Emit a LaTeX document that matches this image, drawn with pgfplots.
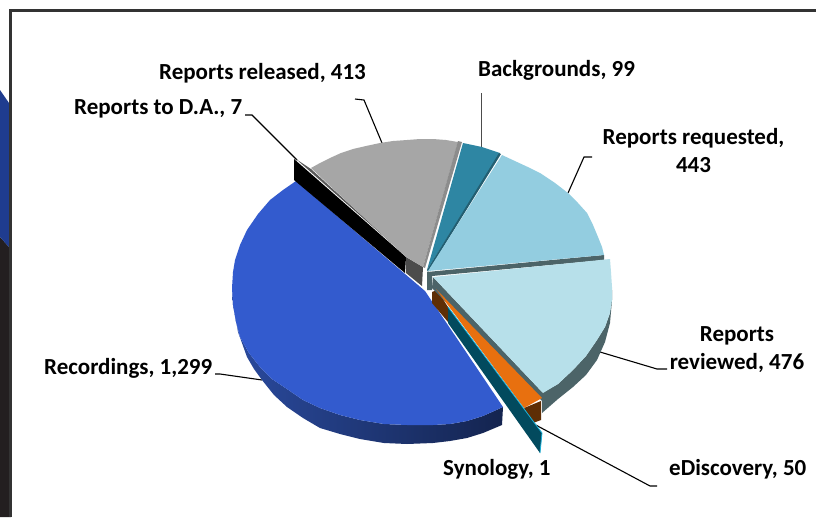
\documentclass[border=0pt]{standalone}
\usepackage{pgfplots}
\pgfplotsset{compat=1.18}
\usepackage{fontspec}
\setmainfont{Carlito}
\definecolor{cBlue}{HTML}{335BCE}
\definecolor{cGrey}{HTML}{A6A6A6}
\definecolor{cTeal}{HTML}{2E86A3}
\definecolor{cReq}{HTML}{93CDE0}
\definecolor{cRev}{HTML}{B7E0EA}
\definecolor{cOr}{HTML}{E8700F}
\definecolor{cBr}{HTML}{5E2E05}
\definecolor{cSyn}{HTML}{024A5E}
\definecolor{cBand}{HTML}{4C6468}
\definecolor{cDark}{HTML}{231F20}
\tikzset{lab/.style={font=\fontsize{23}{27}\selectfont\bfseries,text=black,inner sep=0pt},
 lead/.style={black,line width=1.1pt}}
\begin{document}
\begin{tikzpicture}
\begin{axis}[at={(0,0)},anchor=south west,width=816pt,height=517pt,scale only axis,
 xmin=0,xmax=816,ymin=0,ymax=517,y dir=reverse,hide axis,clip=true,no markers]
% page ground
\addplot[fill=white,draw=none] coordinates {(0,0)(816,0)(816,517)(0,517)} --cycle;
% page furniture
\addplot[fill=cDark,draw=none] coordinates {(0,237)(9,247)(11,247)(11,517)(0,517)} --cycle;
\addplot[fill={rgb,255:red,31;green,60;blue,143},draw=none] coordinates {(0,90)(9,103)(9,247)(0,237)} --cycle;
\addplot[draw=black!80,line width=2.6pt] coordinates {(10.3,517)(10.3,10.3)(816,10.3)};
% leaders
\addplot[lead] coordinates {(355,99)(364,100)(382,143)};
\addplot[lead] coordinates {(245,115)(252,115)(297,160)};
\addplot[lead,draw=black!70] coordinates {(481.5,93)(481.5,148)};
\addplot[lead] coordinates {(592,157)(584,157)(568,193)};
\addplot[lead] coordinates {(600,352)(657,369)(667,369)};
\addplot[lead] coordinates {(215,374)(220,374)(262,380)};
\addplot[lead] coordinates {(532,423)(650,486)(657,486)};
% blue side
\addplot[draw=none,left color={rgb,255:red,42;green,74;blue,158},middle color={rgb,255:red,26;green,44;blue,104},right color={rgb,255:red,20;green,36;blue,79}] coordinates {
(232,288)(233,305)(236,322)(240,337)(249,353)(260,367)(272,379)(287,389)(303,400)(320,408)(340,415)(360,420)(384,424)(407,425)(433,425)(450,424)(467,421)(483,416)(503,407)
(502,425)(483,433)(467,438)(450,441)(433,443)(407,444)(384,443)(360,439)(340,434)(320,428)(303,418)(287,407)(274,395)(262,380)(254,369)(247,357)(238,332)(234,310)} --cycle;
% blue top
\addplot[fill=cBlue,draw=none] coordinates {(296,181)(425,291)(503,407)
(483,416)(467,421)(450,424)(433,425)(407,425)(384,424)(360,420)(340,415)(320,408)(303,400)(287,389)(272,379)(260,367)(249,353)(240,337)(236,322)(233,305)(232,288)
(233,272)(235,260)(240,245)(247,230)(258,214)(270,200)(283,190)} --cycle;
% Reports to D.A.
\addplot[fill=black!65,draw=none] coordinates {(296,159)(311,169)(406,256)} --cycle;
\addplot[fill=black,draw=none] coordinates {(294,159)(294,180)(405,273)(406,257)} --cycle;
\addplot[fill=black!70,draw=none] coordinates {(406,257)(406,273)(422,286)(423,267)} --cycle;
% Reports released
\addplot[fill=cGrey,draw=none] coordinates {(423,267)(406,257)(311,168)(320,163)(330,158)(341,153)(353,149)(366,146)(380,143)(393,141)(407,140)(420,139)(433,139)(446,140)(458,142)} --cycle;
\addplot[fill=black!45,draw=none] coordinates {(458,141)(462,142)(425,268)(423,267)} --cycle;
% Backgrounds
\addplot[fill=cTeal,draw=none] coordinates {(463,143)(482,147)(500,153)(427,270)} --cycle;
\addplot[fill={rgb,255:red,35;green,95;blue,114},draw=none] coordinates {(499,153)(501,154)(428,272)(427,270)} --cycle;
% Reports requested
\addplot[fill=cBand,draw=none] coordinates {(604,255)(604,260)(432,276)(432,290)(427,290)(427,272)} --cycle;
\addplot[fill=cReq,draw=none] coordinates {(428,271)(502,155)(517,162)(530,168)(540,173)(555,183)(568,193)(578,203)(587,213)(593,225)(598,237)(602,247)(604,255)} --cycle;
% eDiscovery sides
\addplot[fill=cBr,draw=none] coordinates {(432,292)(437,290)(448,307)(448,322)(432,303)} --cycle;
\addplot[fill=cBr,draw=none] coordinates {(524,408)(541,401)(541,420)(533,423)} --cycle;
% Reviewed side
\addplot[fill=cBand,draw=none] coordinates {(612,290)(612,300)(610,323)(605,342)(597,360)(586,375)(573,387)(558,399)(542,413)(542,393)(558,384)(573,370)(586,356)(597,340)(605,327)(610,313)} --cycle;
\addplot[fill=cBand,draw=none] coordinates {(433,277)(432,288)(542,401)(543,393)} --cycle;
% eDiscovery top
\addplot[fill=cOr,draw=none] coordinates {(436,289)(542,398)(524,408)} --cycle;
% Reviewed top
\addplot[fill=cRev,draw=none] coordinates {(433,277)(610,259)(611,272)(612,287)(612,300)(610,313)(605,327)(597,340)(586,356)(573,370)(558,384)(543,393)} --cycle;
% Synology
\addplot[fill=cSyn,draw=none] coordinates {(448,307)(448,323)(540,453)(542,433)} --cycle;
\addplot[draw={rgb,255:red,25;green,176;blue,216},line width=0.8pt] coordinates {(448,307)(542,433)(540,453)};
% labels
\node[lab,anchor=base west] at (axis cs:159,79) {Reports released, 413};
\node[lab,anchor=base west] at (axis cs:74,114) {Reports to D.A., 7};
\node[lab,anchor=base west] at (axis cs:478,76) {Backgrounds, 99};
\node[lab,anchor=base] at (axis cs:693.5,144) {Reports requested,};
\node[lab,anchor=base] at (axis cs:693.5,172) {443};
\node[lab,anchor=base] at (axis cs:737,341) {Reports};
\node[lab,anchor=base] at (axis cs:737,369) {reviewed, 476};
\node[lab,anchor=base west] at (axis cs:44,374) {Recordings, 1,299};
\node[lab,anchor=base west] at (axis cs:443,475) {Synology, 1};
\node[lab,anchor=base west] at (axis cs:669,475) {eDiscovery, 50};
\end{axis}
\end{tikzpicture}
\end{document}
